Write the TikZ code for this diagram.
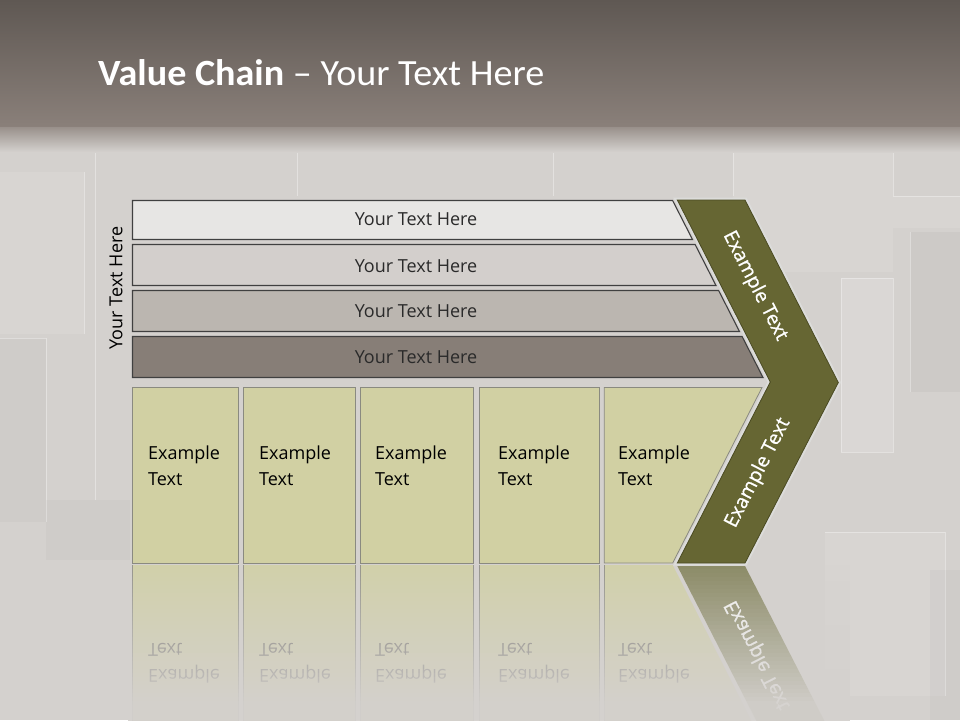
\documentclass[tikz,border=0pt]{standalone}
\usepackage{fontspec}
\setmainfont{Open Sans}
\newfontfamily\titlefont[FakeStretch=1.03]{Carlito}
\newfontfamily\chevfont[FakeBold=0.8]{Open Sans}
\definecolor{bglow}{HTML}{D4D1CE}
\definecolor{topA}{HTML}{5F5853}
\definecolor{topB}{HTML}{8A807A}
\definecolor{barA}{HTML}{E7E6E4}
\definecolor{barB}{HTML}{D3CFCC}
\definecolor{barC}{HTML}{BBB6B0}
\definecolor{barD}{HTML}{877E77}
\definecolor{barline}{HTML}{404040}
\definecolor{boxfill}{HTML}{D1D0A3}
\definecolor{boxline}{HTML}{8A8A80}
\definecolor{olive}{HTML}{666633}
\definecolor{oliveline}{HTML}{4A4A22}
\definecolor{strip}{HTML}{DCDCDA}
\definecolor{txt}{HTML}{2A2A2A}
\definecolor{refltxt}{HTML}{605E58}
\begin{document}
\begin{tikzpicture}[x=1pt,y=-1pt,
  barshape/.style={draw=barline, line width=1.1pt},
  bartext/.style={text=txt, font=\fontsize{18}{22}\selectfont, inner sep=0pt},
  boxshape/.style={fill=boxfill, draw=boxline, line width=0.8pt},
  boxtext/.style={text=black, font=\fontsize{18}{26}\selectfont, inner sep=0pt, anchor=base west},
  refltext/.style={text=refltxt, font=\fontsize{18}{26}\selectfont, inner sep=0pt, anchor=base west},
  chevtext/.style={text=white, font=\chevfont\fontsize{19.5}{24}\selectfont, inner sep=0pt},
  block/.style={fill=white, opacity=0.1},
  blockedge/.style={draw=white, opacity=0.35, line width=1pt}
]
\useasboundingbox (0,0) rectangle (960,720);
% ---------- background ----------
\fill[bglow] (0,0) rectangle (960,720);
\fill[block] (0,172) rectangle (84,334);
\draw[blockedge] (84,172) -- (84,334);
\fill[black, opacity=0.025] (0,338) rectangle (46,522);
\draw[blockedge] (0,338) -- (46,338) -- (46,522);
\fill[black, opacity=0.025] (46,500) rectangle (130,560);
\draw[blockedge] (95,140) -- (95,500);
\draw[blockedge] (297,140) -- (297,196);
\draw[blockedge] (553,140) -- (553,196);
\fill[block] (733,140) rectangle (893,272);
\draw[blockedge] (733,140) -- (733,196);
\draw[blockedge] (893,140) -- (893,196);
\fill[white, opacity=0.15] (841,278) rectangle (893,452);
\draw[blockedge] (841,278) rectangle (893,452);
\fill[block] (893,196) rectangle (960,228);
\draw[blockedge] (893,196) -- (960,196);
\fill[black, opacity=0.03] (910,232) rectangle (960,392);
\draw[blockedge] (910,232) -- (910,392);
\fill[block] (825,532) rectangle (945,696);
\draw[blockedge] (825,532) -- (945,532) -- (945,696);
\fill[black, opacity=0.025] (930,570) rectangle (960,720);
% top band
\shade[top color=topA, bottom color=topB] (0,0) rectangle (960,127);
\shade[top color=topB!80!bglow, bottom color=bglow] (0,127) rectangle (960,152);
% title
\node[anchor=base west, text=white, inner sep=0pt,
      font=\titlefont\fontsize{37}{40}\selectfont] (title) at (98,85)
      {\textbf{Value Chain} – Your Text Here};

% ---------- reflections ----------
\fill[boxfill] (132,565) rectangle (238,742);
\fill[boxfill] (243,565) rectangle (355,742);
\fill[boxfill] (360.5,565) rectangle (473,742);
\fill[boxfill] (479,565) rectangle (599.5,742);
\fill[boxfill] (604,565) -- (672.7,565) -- (762,742) -- (604,742) -- cycle;
\draw[boxline] (132,565) -- (132,742) (238,565) -- (238,742)
               (243,565) -- (243,742) (355,565) -- (355,742)
               (360.5,565) -- (360.5,742) (473,565) -- (473,742)
               (479,565) -- (479,742) (599.5,565) -- (599.5,742)
               (604,565) -- (604,742);
\fill[olive!85!white] (677.3,566) -- (745,566) -- (838.3,748) -- (770.3,748) -- cycle;
\node[refltext] (r1a) at (148,669) {\scalebox{1}[-1]{Example}};
\node[refltext] (r1b) at (148,643) {\scalebox{1}[-1]{Text}};
\node[refltext] (r2a) at (259,669) {\scalebox{1}[-1]{Example}};
\node[refltext] (r2b) at (259,643) {\scalebox{1}[-1]{Text}};
\node[refltext] (r3a) at (375,669) {\scalebox{1}[-1]{Example}};
\node[refltext] (r3b) at (375,643) {\scalebox{1}[-1]{Text}};
\node[refltext] (r4a) at (498,669) {\scalebox{1}[-1]{Example}};
\node[refltext] (r4b) at (498,643) {\scalebox{1}[-1]{Text}};
\node[refltext] (r5a) at (618,669) {\scalebox{1}[-1]{Example}};
\node[refltext] (r5b) at (618,643) {\scalebox{1}[-1]{Text}};
\node[chevtext, rotate=-62.9] (rc) at (758,655) {\scalebox{1}[-1]{Example Text}};
% fade overlay
\foreach \i in {0,...,38} {
  \pgfmathsetmacro{\op}{min(0.95,0.18+0.72*(\i/32))}
  \fill[bglow, opacity=\op] (128,565+4*\i) rectangle (850,569+4*\i);
}

% ---------- bars ----------
\draw[barshape, fill=barA] (132.5,200.5) -- (672.6,200.5) -- (692.5,239.5) -- (132.5,239.5) -- cycle;
\draw[barshape, fill=barB] (132.5,244.5) -- (695.1,244.5) -- (716.0,285.5) -- (132.5,285.5) -- cycle;
\draw[barshape, fill=barC] (132.5,290.5) -- (718.6,290.5) -- (739.5,331.5) -- (132.5,331.5) -- cycle;
\draw[barshape, fill=barD] (132.5,336.5) -- (742.1,336.5) -- (763.0,377.5) -- (132.5,377.5) -- cycle;
\node[bartext] (b1) at (416,219.5) {Your Text Here};
\node[bartext] (b2) at (416,266.5) {Your Text Here};
\node[bartext] (b3) at (416,311.5) {Your Text Here};
\node[bartext] (b4) at (416,357) {Your Text Here};
\node[rotate=90, text=black, inner sep=0pt, font=\fontsize{18}{22}\selectfont] (side) at (116,288) {Your Text Here};

% ---------- boxes ----------
\draw[boxshape] (132.3,387.5) rectangle (238.3,563);
\draw[boxshape] (243.3,387.5) rectangle (355.5,563);
\draw[boxshape] (360.7,387.5) rectangle (473.3,563);
\draw[boxshape] (479,387.5) rectangle (599.8,563);
\draw[boxshape] (604.3,387.5) -- (762,387.5) -- (672.7,563) -- (604.3,563) -- cycle;
\node[boxtext, align=left] (x1) at (148,485) {Example\\Text};
\node[boxtext, align=left] (x2) at (259,485) {Example\\Text};
\node[boxtext, align=left] (x3) at (375,485) {Example\\Text};
\node[boxtext, align=left] (x4) at (498,485) {Example\\Text};
\node[boxtext, align=left] (x5) at (618,485) {Example\\Text};

% ---------- chevron ----------
\draw[strip, line width=5pt, line join=miter]
  (677.3,200) -- (745,200) -- (838.3,382.5) -- (745,563) -- (677.3,563) -- (770.3,382) -- cycle;
\draw[fill=olive, draw=oliveline, line width=0.8pt]
  (677.3,200) -- (745,200) -- (838.3,382.5) -- (745,563) -- (677.3,563) -- (770.3,382) -- cycle;
\node[chevtext, rotate=-62.9] (c1) at (755,286) {Example Text};
\node[chevtext, rotate=62.9] (c2) at (758,473) {Example Text};
\end{tikzpicture}
\end{document}
